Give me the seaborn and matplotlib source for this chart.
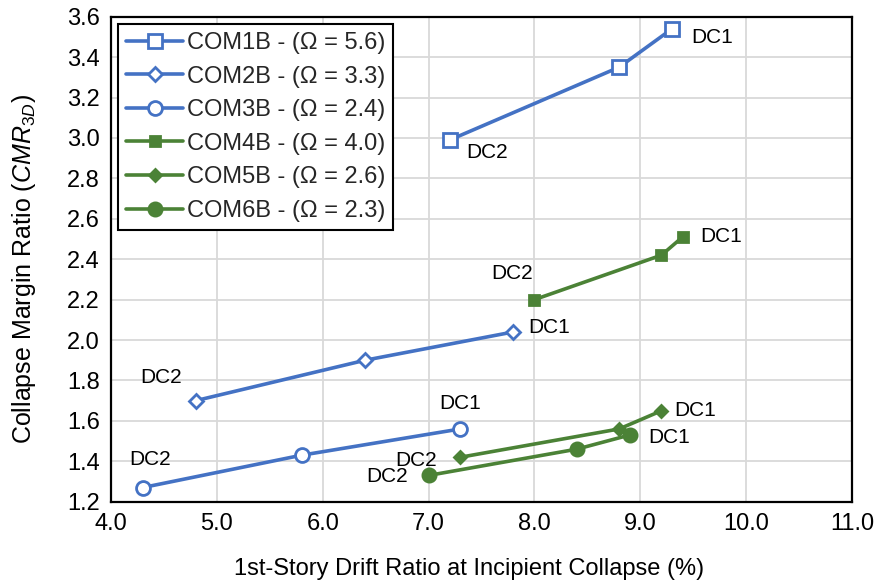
import matplotlib
matplotlib.use("Agg")
import matplotlib.pyplot as plt
import seaborn as sns
import numpy as np
import pandas as pd

# Series data: drift ratio (%) and collapse margin ratio
series_names = [
    "COM1B - (\u03a9 = 5.6)",
    "COM2B - (\u03a9 = 3.3)",
    "COM3B - (\u03a9 = 2.4)",
    "COM4B - (\u03a9 = 4.0)",
    "COM5B - (\u03a9 = 2.6)",
    "COM6B - (\u03a9 = 2.3)",
]
com1b_x = [7.2, 8.8, 9.3]
com1b_y = [2.99, 3.35, 3.54]
com2b_x = [4.8, 6.4, 7.8]
com2b_y = [1.70, 1.90, 2.04]
com3b_x = [4.3, 5.8, 7.3]
com3b_y = [1.27, 1.43, 1.56]
com4b_x = [8.0, 9.2, 9.4]
com4b_y = [2.20, 2.42, 2.51]
com5b_x = [7.3, 8.8, 9.2]
com5b_y = [1.42, 1.56, 1.65]
com6b_x = [7.0, 8.4, 8.9]
com6b_y = [1.33, 1.46, 1.53]

x_ticks = [4.0, 5.0, 6.0, 7.0, 8.0, 9.0, 10.0, 11.0]
y_ticks = [1.2, 1.4, 1.6, 1.8, 2.0, 2.2, 2.4, 2.6, 2.8, 3.0, 3.2, 3.4, 3.6]

xs = [com1b_x, com2b_x, com3b_x, com4b_x, com5b_x, com6b_x]
ys = [com1b_y, com2b_y, com3b_y, com4b_y, com5b_y, com6b_y]

BLUE = "#4472C4"
GREEN = "#4B8236"
styles = [
    dict(color=BLUE, marker="s", mfc="white", ms=9.5),
    dict(color=BLUE, marker="D", mfc="white", ms=7.5),
    dict(color=BLUE, marker="o", mfc="white", ms=10),
    dict(color=GREEN, marker="s", mfc=GREEN, ms=7),
    dict(color=GREEN, marker="D", mfc=GREEN, ms=6.5),
    dict(color=GREEN, marker="o", mfc=GREEN, ms=9.5),
]

# Label offsets (points) for the DC2 (first) and DC1 (last) points
dc2_offsets = [(12, -9, "left"), (-10, 17, "right"), (-10, 20, "left"), (-1, 19, "right"), (-17, -2, "right"), (-15, -1, "right")]
dc1_offsets = [(14, -6, "left"), (11, 3, "left"), (-15, 18, "left"), (13, 0, "left"), (9, 0, "left"), (13, -2, "left")]

sns.set_theme(style="white")
plt.rcParams["font.family"] = ["Liberation Sans", "DejaVu Sans"]
plt.rcParams["mathtext.fontset"] = "custom"
plt.rcParams["mathtext.rm"] = "Liberation Sans"
plt.rcParams["mathtext.it"] = "Liberation Sans:italic"

fig = plt.figure(figsize=(8.85, 5.88), dpi=100)
ax = fig.add_axes([111 / 885, 1 - 501.7 / 588, 741 / 885, 485 / 588])

for name, x, y, st in zip(series_names, xs, ys, styles):
    df = pd.DataFrame({"x": x, "y": y})
    sns.lineplot(data=df, x="x", y="y", ax=ax, color=st["color"], marker=st["marker"],
                 markerfacecolor=st["mfc"], markeredgecolor=st["color"],
                 markersize=st["ms"], markeredgewidth=2, linewidth=2.6,
                 label=name, sort=False)

for x, y, o2, o1 in zip(xs, ys, dc2_offsets, dc1_offsets):
    ax.annotate("DC2", (x[0], y[0]), xytext=(o2[0], o2[1]), textcoords="offset points",
                ha=o2[2], va="center", fontsize=15, color="black")
    ax.annotate("DC1", (x[-1], y[-1]), xytext=(o1[0], o1[1]), textcoords="offset points",
                ha=o1[2], va="center", fontsize=15, color="black")

ax.set_xlim(4.0, 11.0)
ax.set_ylim(1.2, 3.6)
ax.set_xticks(x_ticks)
ax.set_yticks(y_ticks)
ax.set_xticklabels([f"{v:.1f}" for v in x_ticks], fontsize=17)
ax.set_yticklabels([f"{v:.1f}" for v in y_ticks], fontsize=17)
ax.tick_params(axis="both", length=0, pad=8, colors="black")
ax.grid(True, color="#D9D9D9", linewidth=1.3)
ax.set_axisbelow(True)
for sp in ax.spines.values():
    sp.set_visible(True)
    sp.set_color("black")
    sp.set_linewidth(1.6)

ax.set_xlabel("1st-Story Drift Ratio at Incipient Collapse (%)", fontsize=17, color="black")
ax.xaxis.set_label_coords(0.483, -0.117)
ax.set_ylabel(r"Collapse Margin Ratio ($\mathit{CMR}_{\mathit{3D}}$)", fontsize=18, color="black")
ax.yaxis.set_label_coords(-0.098, 0.48)

leg = ax.legend(loc="upper left", bbox_to_anchor=(0.0, 1.0), bbox_transform=ax.transAxes,
                fontsize=17, frameon=True, fancybox=False, handlelength=2.4,
                handletextpad=0.15, labelspacing=0.49, borderpad=0.35,
                borderaxespad=0.3, framealpha=1)
leg.get_frame().set_edgecolor("black")
leg.get_frame().set_linewidth(1.5)

fig.savefig("out.png", dpi=100)
